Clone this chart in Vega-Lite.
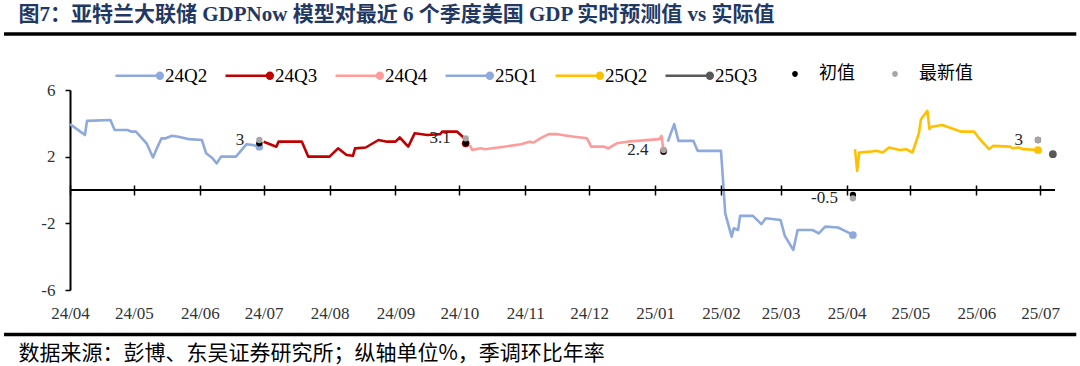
{
  "$schema": "https://vega.github.io/schema/vega-lite/v6.json",
  "width": 985,
  "height": 200,
  "autosize": {"type": "none"},
  "padding": {"left": 70, "top": 90, "right": 25, "bottom": 76},
  "background": "white",
  "datasets": {
    "nowcast": [
      {"date": "2024-04-01", "q": "24Q2", "v": 3.95},
      {"date": "2024-04-07", "q": "24Q2", "v": 3.4},
      {"date": "2024-04-08", "q": "24Q2", "v": 3.3},
      {"date": "2024-04-09", "q": "24Q2", "v": 4.15},
      {"date": "2024-04-20", "q": "24Q2", "v": 4.2},
      {"date": "2024-04-22", "q": "24Q2", "v": 3.6},
      {"date": "2024-04-28", "q": "24Q2", "v": 3.6},
      {"date": "2024-04-30", "q": "24Q2", "v": 3.5},
      {"date": "2024-05-02", "q": "24Q2", "v": 3.5},
      {"date": "2024-05-07", "q": "24Q2", "v": 2.8},
      {"date": "2024-05-10", "q": "24Q2", "v": 1.95},
      {"date": "2024-05-12", "q": "24Q2", "v": 2.55},
      {"date": "2024-05-14", "q": "24Q2", "v": 3.1},
      {"date": "2024-05-16", "q": "24Q2", "v": 3.1},
      {"date": "2024-05-19", "q": "24Q2", "v": 3.25},
      {"date": "2024-05-22", "q": "24Q2", "v": 3.2},
      {"date": "2024-05-27", "q": "24Q2", "v": 3.05},
      {"date": "2024-06-02", "q": "24Q2", "v": 3.0},
      {"date": "2024-06-04", "q": "24Q2", "v": 2.2},
      {"date": "2024-06-07", "q": "24Q2", "v": 1.9},
      {"date": "2024-06-09", "q": "24Q2", "v": 1.6},
      {"date": "2024-06-11", "q": "24Q2", "v": 2.0},
      {"date": "2024-06-18", "q": "24Q2", "v": 2.0},
      {"date": "2024-06-20", "q": "24Q2", "v": 2.3},
      {"date": "2024-06-23", "q": "24Q2", "v": 2.75},
      {"date": "2024-06-26", "q": "24Q2", "v": 2.7},
      {"date": "2024-06-29", "q": "24Q2", "v": 2.6},
      {"date": "2024-07-01", "q": "24Q3", "v": 2.9},
      {"date": "2024-07-07", "q": "24Q3", "v": 2.6},
      {"date": "2024-07-08", "q": "24Q3", "v": 2.9},
      {"date": "2024-07-19", "q": "24Q3", "v": 2.9},
      {"date": "2024-07-22", "q": "24Q3", "v": 2.0},
      {"date": "2024-08-01", "q": "24Q3", "v": 2.0},
      {"date": "2024-08-05", "q": "24Q3", "v": 2.5},
      {"date": "2024-08-09", "q": "24Q3", "v": 2.1},
      {"date": "2024-08-12", "q": "24Q3", "v": 2.05},
      {"date": "2024-08-13", "q": "24Q3", "v": 2.5},
      {"date": "2024-08-18", "q": "24Q3", "v": 2.55},
      {"date": "2024-08-24", "q": "24Q3", "v": 3.0},
      {"date": "2024-08-28", "q": "24Q3", "v": 2.9},
      {"date": "2024-09-01", "q": "24Q3", "v": 2.9},
      {"date": "2024-09-03", "q": "24Q3", "v": 3.15},
      {"date": "2024-09-07", "q": "24Q3", "v": 2.6},
      {"date": "2024-09-10", "q": "24Q3", "v": 3.4},
      {"date": "2024-09-16", "q": "24Q3", "v": 3.3},
      {"date": "2024-09-22", "q": "24Q3", "v": 3.35},
      {"date": "2024-09-23", "q": "24Q3", "v": 3.5},
      {"date": "2024-09-30", "q": "24Q3", "v": 3.5},
      {"date": "2024-10-03", "q": "24Q3", "v": 3.15},
      {"date": "2024-10-04", "q": "24Q3", "v": 2.8},
      {"date": "2024-10-06", "q": "24Q4", "v": 2.7},
      {"date": "2024-10-07", "q": "24Q4", "v": 2.4},
      {"date": "2024-10-11", "q": "24Q4", "v": 2.5},
      {"date": "2024-10-13", "q": "24Q4", "v": 2.45},
      {"date": "2024-10-22", "q": "24Q4", "v": 2.6},
      {"date": "2024-10-30", "q": "24Q4", "v": 2.75},
      {"date": "2024-11-03", "q": "24Q4", "v": 2.9},
      {"date": "2024-11-05", "q": "24Q4", "v": 2.85},
      {"date": "2024-11-08", "q": "24Q4", "v": 3.1},
      {"date": "2024-11-12", "q": "24Q4", "v": 3.35},
      {"date": "2024-11-16", "q": "24Q4", "v": 3.35},
      {"date": "2024-11-24", "q": "24Q4", "v": 3.2},
      {"date": "2024-11-30", "q": "24Q4", "v": 3.1},
      {"date": "2024-12-02", "q": "24Q4", "v": 2.6},
      {"date": "2024-12-08", "q": "24Q4", "v": 2.6},
      {"date": "2024-12-10", "q": "24Q4", "v": 2.5},
      {"date": "2024-12-14", "q": "24Q4", "v": 2.8},
      {"date": "2024-12-19", "q": "24Q4", "v": 2.9},
      {"date": "2025-01-03", "q": "24Q4", "v": 3.05},
      {"date": "2025-01-04", "q": "24Q4", "v": 3.25},
      {"date": "2025-01-05", "q": "24Q4", "v": 2.35},
      {"date": "2025-01-07", "q": "25Q1", "v": 2.9},
      {"date": "2025-01-10", "q": "25Q1", "v": 3.95},
      {"date": "2025-01-12", "q": "25Q1", "v": 2.95},
      {"date": "2025-01-19", "q": "25Q1", "v": 2.95},
      {"date": "2025-01-21", "q": "25Q1", "v": 2.35},
      {"date": "2025-02-01", "q": "25Q1", "v": 2.35},
      {"date": "2025-02-03", "q": "25Q1", "v": -1.4},
      {"date": "2025-02-06", "q": "25Q1", "v": -2.8},
      {"date": "2025-02-07", "q": "25Q1", "v": -2.3},
      {"date": "2025-02-09", "q": "25Q1", "v": -2.4},
      {"date": "2025-02-10", "q": "25Q1", "v": -1.55},
      {"date": "2025-02-16", "q": "25Q1", "v": -1.55},
      {"date": "2025-02-20", "q": "25Q1", "v": -2.05},
      {"date": "2025-02-22", "q": "25Q1", "v": -1.7},
      {"date": "2025-03-01", "q": "25Q1", "v": -1.8},
      {"date": "2025-03-03", "q": "25Q1", "v": -2.75},
      {"date": "2025-03-07", "q": "25Q1", "v": -3.6},
      {"date": "2025-03-09", "q": "25Q1", "v": -2.4},
      {"date": "2025-03-16", "q": "25Q1", "v": -2.4},
      {"date": "2025-03-19", "q": "25Q1", "v": -2.6},
      {"date": "2025-03-22", "q": "25Q1", "v": -2.2},
      {"date": "2025-03-28", "q": "25Q1", "v": -2.25},
      {"date": "2025-04-01", "q": "25Q1", "v": -2.5},
      {"date": "2025-04-04", "q": "25Q1", "v": -2.7},
      {"date": "2025-04-05", "q": "25Q2", "v": 2.45},
      {"date": "2025-04-06", "q": "25Q2", "v": 1.15},
      {"date": "2025-04-07", "q": "25Q2", "v": 2.25},
      {"date": "2025-04-12", "q": "25Q2", "v": 2.3},
      {"date": "2025-04-15", "q": "25Q2", "v": 2.35},
      {"date": "2025-04-18", "q": "25Q2", "v": 2.25},
      {"date": "2025-04-21", "q": "25Q2", "v": 2.55},
      {"date": "2025-04-26", "q": "25Q2", "v": 2.4},
      {"date": "2025-04-29", "q": "25Q2", "v": 2.45},
      {"date": "2025-05-02", "q": "25Q2", "v": 2.25},
      {"date": "2025-05-05", "q": "25Q2", "v": 3.4},
      {"date": "2025-05-06", "q": "25Q2", "v": 4.25},
      {"date": "2025-05-09", "q": "25Q2", "v": 4.75},
      {"date": "2025-05-10", "q": "25Q2", "v": 3.65},
      {"date": "2025-05-11", "q": "25Q2", "v": 3.8},
      {"date": "2025-05-16", "q": "25Q2", "v": 3.9},
      {"date": "2025-05-25", "q": "25Q2", "v": 3.5},
      {"date": "2025-05-31", "q": "25Q2", "v": 3.5},
      {"date": "2025-06-03", "q": "25Q2", "v": 3.0},
      {"date": "2025-06-07", "q": "25Q2", "v": 2.45},
      {"date": "2025-06-09", "q": "25Q2", "v": 2.65},
      {"date": "2025-06-17", "q": "25Q2", "v": 2.6},
      {"date": "2025-06-18", "q": "25Q2", "v": 2.5},
      {"date": "2025-06-21", "q": "25Q2", "v": 2.55},
      {"date": "2025-06-23", "q": "25Q2", "v": 2.45},
      {"date": "2025-06-30", "q": "25Q2", "v": 2.4},
      {"date": "2025-07-07", "q": "25Q3", "v": 2.15}
    ],
    "actual": [
      {"date": "2024-06-29", "q": "24Q2", "type": "初值", "v": 2.8},
      {"date": "2024-06-29", "q": "24Q2", "type": "最新值", "v": 3.0},
      {"date": "2024-10-04", "q": "24Q3", "type": "初值", "v": 2.8},
      {"date": "2024-10-04", "q": "24Q3", "type": "最新值", "v": 3.1},
      {"date": "2025-01-05", "q": "24Q4", "type": "初值", "v": 2.3},
      {"date": "2025-01-05", "q": "24Q4", "type": "最新值", "v": 2.4},
      {"date": "2025-04-04", "q": "25Q1", "type": "初值", "v": -0.3},
      {"date": "2025-04-04", "q": "25Q1", "type": "最新值", "v": -0.5},
      {"date": "2025-06-30", "q": "25Q2", "type": "初值", "v": 3.0},
      {"date": "2025-06-30", "q": "25Q2", "type": "最新值", "v": 3.0}
    ],
    "zero": [{"v": 0}],
    "separators": [
      {"from": "2024-03-01", "to": "2025-07-18", "v": 9.36},
      {"from": "2024-03-01", "to": "2025-07-18", "v": -8.67}
    ]
  },
  "layer": [
    {
      "data": {"name": "nowcast"},
      "mark": {"type": "line", "strokeWidth": 2.6, "strokeJoin": "round"},
      "encoding": {
        "x": {
          "field": "date",
          "type": "temporal",
          "scale": {"type": "utc", "domain": [1711929600000, 1751932800000]},
          "axis": {
            "offset": -105,
            "domain": false,
            "ticks": true,
            "tickSize": 10,
            "tickWidth": 1.5,
            "tickColor": "#000000",
            "tickCount": {"interval": "month", "step": 1},
            "format": "%y/%m",
            "formatType": "utc",
            "labelExpr": "utcFormat(datum.value, '%y/%m')",
            "grid": false,
            "labelPadding": 110,
            "labelFont": "Liberation Serif",
            "labelFontSize": 17,
            "labelColor": "#333333",
            "labelFlush": false,
            "labelOverlap": false,
            "title": "数据来源：彭博、东吴证券研究所；纵轴单位%，季调环比年率",
            "titleFont": "Noto Sans CJK SC",
            "titleFontSize": 21,
            "titleFontWeight": "normal",
            "titleColor": "#000000",
            "titleAnchor": "start",
            "titleAlign": "left",
            "titleBaseline": "middle",
            "titleX": -52,
            "titleY": 168
          }
        },
        "y": {
          "field": "v",
          "type": "quantitative",
          "scale": {"domain": [-6, 6], "nice": false, "zero": false},
          "axis": {
            "values": [-6, -4, -2, 0, 2, 4, 6],
            "domain": true,
            "domainColor": "#000000",
            "domainWidth": 2,
            "ticks": true,
            "tickSize": 5,
            "tickWidth": 1.5,
            "tickColor": "#000000",
            "grid": false,
            "labelPadding": 10,
            "labelFont": "Liberation Serif",
            "labelFontSize": 17,
            "labelColor": "#333333",
            "title": "图7：亚特兰大联储 GDPNow 模型对最近 6 个季度美国 GDP 实时预测值 vs 实际值",
            "titleFont": "Liberation Serif, Noto Sans CJK SC",
            "titleFontSize": 21,
            "titleFontWeight": "bold",
            "titleColor": "#1F3864",
            "titleAngle": 0,
            "titleAnchor": "start",
            "titleAlign": "left",
            "titleBaseline": "middle",
            "titleX": -52,
            "titleY": -76
          }
        },
        "color": {
          "field": "q",
          "type": "nominal",
          "scale": {
            "domain": ["24Q2", "24Q3", "24Q4", "25Q1", "25Q2", "25Q3"],
            "range": ["#8EA9DB", "#C00000", "#FF9B9B", "#8EA9DB", "#FFC000", "#595959"]
          },
          "legend": {
            "title": null,
            "orient": "none",
            "direction": "horizontal",
            "legendX": 44,
            "legendY": -40,
            "columnPadding": 12,
            "symbolType": "M-1,0L0.85,0M0.73,0A0.12,0.12,0,1,0,0.97,0A0.12,0.12,0,1,0,0.73,0Z",
            "symbolSize": 2304,
            "symbolStrokeWidth": 2.5,
            "labelFont": "Liberation Serif",
            "labelFontSize": 19,
            "labelColor": "#000000",
            "labelOffset": 0,
            "encode": {
              "symbols": {
                "update": {
                  "fill": {"value": {"expr": "scale('color', datum.value)"}},
                  "stroke": {"value": {"expr": "scale('color', datum.value)"}},
                  "strokeWidth": {"value": 2.5},
                  "opacity": {"value": 1}
                }
              }
            }
          }
        }
      }
    },
    {
      "data": {"name": "zero"},
      "mark": {"type": "rule", "stroke": "#000000", "strokeWidth": 2},
      "encoding": {"y": {"field": "v", "type": "quantitative"}}
    },
    {
      "data": {"name": "nowcast"},
      "transform": [
        {"window": [{"op": "row_number", "as": "rn"}], "groupby": ["q"], "sort": [{"field": "date", "order": "descending"}]},
        {"filter": "datum.rn === 1"}
      ],
      "mark": {"type": "point", "filled": true, "size": 60, "opacity": 1},
      "encoding": {
        "x": {"field": "date", "type": "temporal"},
        "y": {"field": "v", "type": "quantitative"},
        "color": {"field": "q", "type": "nominal"}
      }
    },
    {
      "data": {"name": "actual"},
      "transform": [{"filter": "datum.type === '初值'"}],
      "mark": {"type": "point", "filled": true, "size": 40, "opacity": 1},
      "encoding": {
        "x": {"field": "date", "type": "temporal"},
        "y": {"field": "v", "type": "quantitative"},
        "fill": {
          "field": "type",
          "type": "nominal",
          "scale": {"domain": ["初值", "最新值"], "range": ["#000000", "#A6A6A6"]},
          "legend": {
            "title": null,
            "orient": "none",
            "direction": "horizontal",
            "legendX": 701,
            "legendY": -40,
            "columnPadding": 16,
            "symbolType": "M-0.12,0A0.12,0.12,0,1,0,0.12,0A0.12,0.12,0,1,0,-0.12,0Z",
            "symbolSize": 2304,
            "symbolStrokeWidth": 0,
            "symbolOpacity": 1,
            "labelFont": "Noto Sans CJK SC",
            "labelFontSize": 18,
            "labelColor": "#000000",
            "labelOffset": 0
          }
        }
      }
    },
    {
      "data": {"name": "actual"},
      "transform": [{"filter": "datum.type === '最新值'"}],
      "mark": {"type": "point", "filled": true, "size": 40, "opacity": 1},
      "encoding": {
        "x": {"field": "date", "type": "temporal"},
        "y": {"field": "v", "type": "quantitative"},
        "fill": {"field": "type", "type": "nominal"}
      }
    },
    {
      "data": {"name": "actual"},
      "transform": [{"filter": "datum.type === '最新值'"}],
      "mark": {"type": "text", "align": "right", "baseline": "middle", "dx": -15, "font": "Liberation Serif", "fontSize": 17, "color": "#262626"},
      "encoding": {
        "x": {"field": "date", "type": "temporal"},
        "y": {"field": "v", "type": "quantitative"},
        "text": {"field": "v", "type": "quantitative", "format": ".1~f"}
      }
    },
    {
      "data": {"name": "separators"},
      "mark": {"type": "rule", "stroke": "#000000", "strokeWidth": 3.5, "clip": false},
      "encoding": {
        "x": {"field": "from", "type": "temporal"},
        "x2": {"field": "to"},
        "y": {"field": "v", "type": "quantitative"}
      }
    }
  ],
  "config": {
    "view": {"stroke": null},
    "locale": {"number": {"decimal": ".", "thousands": ",", "grouping": [3], "currency": ["$", ""], "minus": "-"}}
  }
}
